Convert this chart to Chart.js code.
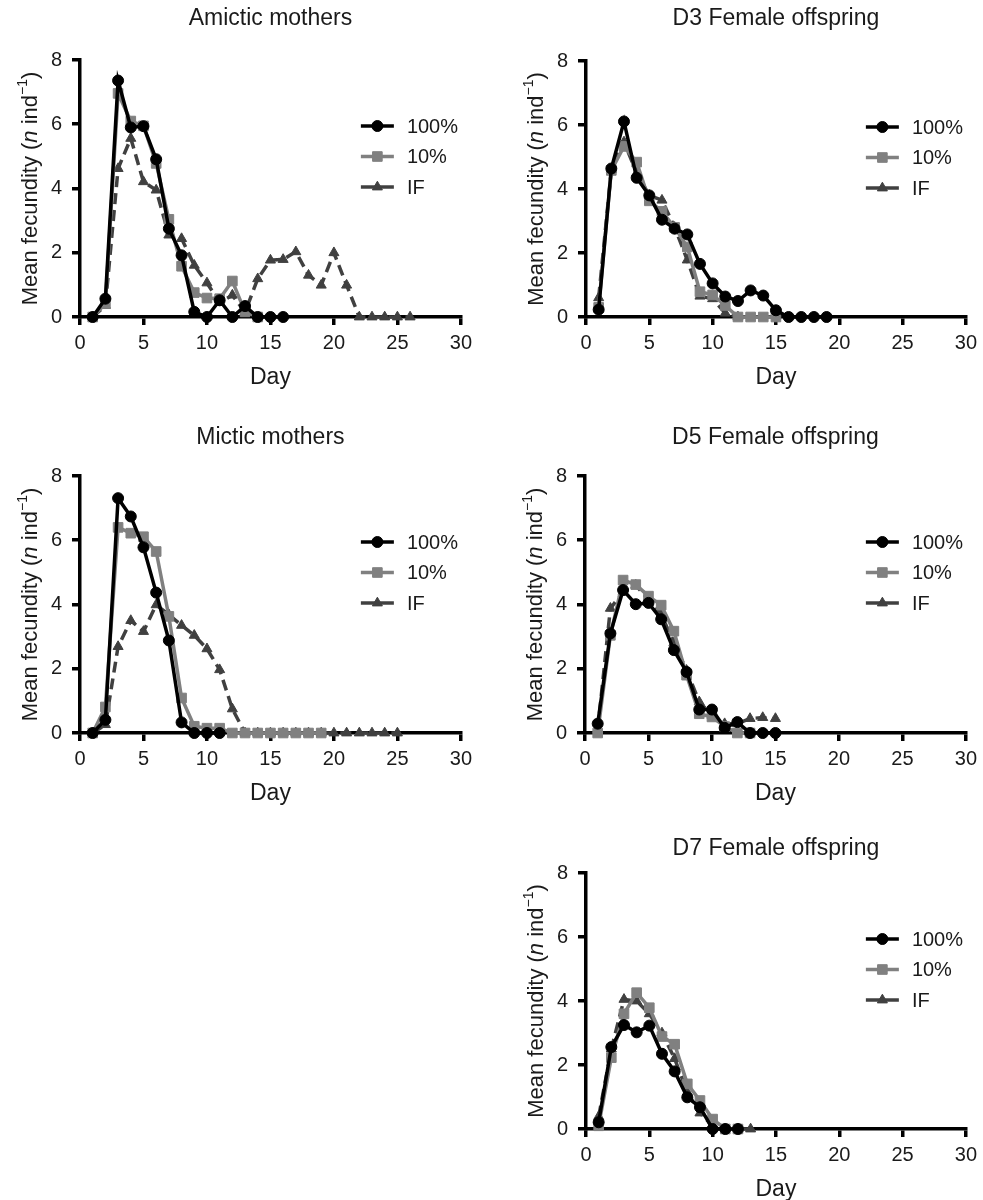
<!DOCTYPE html>
<html>
<head>
<meta charset="utf-8">
<title>Mean fecundity</title>
<script src="https://cdn.jsdelivr.net/npm/chart.js@4.4.1/dist/chart.umd.min.js"></script>
<style>
  html, body { margin: 0; padding: 0; background: #fff; overflow: hidden; }
  #wrap { position: relative; width: 983px; height: 1200px; }
  .panel { position: absolute; }
</style>
</head>
<body>
<div id="wrap"></div>
<script>
// --- data (day 1..n) ---
const days = [1, 2, 3, 4, 5, 6, 7, 8, 9, 10, 11, 12, 13, 14, 15, 16, 17, 18, 19, 20, 21, 22, 23, 24, 25, 26];
const xTicks = [0, 5, 10, 15, 20, 25, 30];
const yTicks = [0, 2, 4, 6, 8];
const seriesLabels = ['100%', '10%', 'IF'];

// Amictic mothers
const amictic100 = [0, 0.57, 7.36, 5.9, 5.94, 4.91, 2.75, 1.92, 0.16, 0, 0.52, 0, 0.34, 0, 0, 0];
const amictic10 = [0, 0.42, 6.96, 6.1, 5.95, 4.78, 3.04, 1.58, 0.76, 0.59, 0.57, 1.12, 0.16, 0];
const amicticIF = [0, 0.36, 4.62, 5.56, 4.21, 3.95, 2.55, 2.44, 1.61, 1.06, 0.45, 0.68, 0.15, 1.19, 1.77, 1.79, 2.03, 1.3, 0.99, 2.0, 0.99, 0, 0, 0, 0, 0];

// D3 female offspring
const d3Fem100 = [0.23, 4.64, 6.11, 4.35, 3.8, 3.04, 2.76, 2.58, 1.66, 1.05, 0.64, 0.5, 0.83, 0.67, 0.21, 0, 0, 0, 0];
const d3Fem10 = [0.3, 4.58, 5.33, 4.84, 3.63, 3.3, 2.8, 2.19, 0.79, 0.69, 0.36, 0, 0, 0, 0];
const d3FemIF = [0.6, 4.6, 5.47, 4.5, 3.8, 3.65, 2.8, 1.78, 0.65, 0.57, 0.12, 0];

// Mictic mothers
const mictic100 = [0, 0.41, 7.31, 6.74, 5.78, 4.37, 2.88, 0.33, 0, 0, 0];
const mictic10 = [0, 0.81, 6.4, 6.22, 6.11, 5.65, 3.63, 1.09, 0.21, 0.15, 0.15, 0, 0, 0, 0, 0, 0, 0, 0];
const micticIF = [0, 0.26, 2.69, 3.5, 3.16, 3.99, 3.68, 3.35, 3.04, 2.62, 1.97, 0.75, 0, 0, 0, 0, 0, 0, 0, 0, 0, 0, 0, 0, 0];

// D5 female offspring
const d5Fem100 = [0.29, 3.1, 4.45, 4.01, 4.05, 3.54, 2.58, 1.9, 0.73, 0.73, 0.16, 0.34, 0, 0, 0];
const d5Fem10 = [0, 3.04, 4.76, 4.62, 4.26, 3.98, 3.17, 1.8, 0.6, 0.5, 0.2, 0, 0];
const d5FemIF = [0.1, 3.88, 4.39, 4.6, 4.15, 3.7, 2.8, 1.95, 0.97, 0.55, 0.29, 0.29, 0.45, 0.48, 0.45];

// D7 female offspring
const d7Fem100 = [0.21, 2.56, 3.25, 3.02, 3.23, 2.35, 1.8, 0.99, 0.68, 0, 0, 0];
const d7Fem10 = [0.1, 2.23, 3.6, 4.26, 3.79, 2.89, 2.65, 1.41, 0.89, 0.31, 0, 0];
const d7FemIF = [0.39, 2.5, 4.05, 4.0, 3.6, 3.0, 2.2, 1.15, 0.5, 0.1, 0, 0, 0];

// --- look ---
const fontFamily = "'Liberation Sans', Arial, Helvetica, sans-serif";
const ink = '#1a1a1a';
const seriesStyle = [
    { color: '#000000', point: 'circle', radius: 5.5, dash: [] },
    { color: '#808080', point: 'rect', radius: 6.8, dash: [] },
    { color: '#404040', point: 'triangle', radius: 5.8, dash: [11, 6] }
];

// panel frames: plot area edges (L,R,T,B) and title centre line
const panels = [
    { title: 'Amictic mothers', series: [amictic100, amictic10, amicticIF], L: 80, R: 465, T: 60, B: 317, titleY: 19 },
    { title: 'D3 Female offspring', series: [d3Fem100, d3Fem10, d3FemIF], L: 586, R: 970, T: 61, B: 317, titleY: 19 },
    { title: 'Mictic mothers', series: [mictic100, mictic10, micticIF], L: 80, R: 465, T: 476, B: 733, titleY: 438 },
    { title: 'D5 Female offspring', series: [d5Fem100, d5Fem10, d5FemIF], L: 585, R: 970, T: 476, B: 733, titleY: 438 },
    { title: 'D7 Female offspring', series: [d7Fem100, d7Fem10, d7FemIF], L: 586, R: 970, T: 873, B: 1129, titleY: 849 }
];

const AXIS_W = 80, PAD_R = 13, TOP_H = 60, AXIS_H = 83;

function drawMarker(ctx, style, x, y, r) {
    ctx.beginPath();
    if (style === 'circle') {
        ctx.arc(x, y, r, 0, Math.PI * 2);
    } else if (style === 'rect') {
        const s = r * Math.SQRT1_2;
        ctx.rect(x - s, y - s, 2 * s, 2 * s);
    } else {
        for (let k = 0; k < 3; k++) {
            const a = k * 2 * Math.PI / 3;
            const px = x + r * Math.sin(a), py = y - r * Math.cos(a);
            if (k === 0) ctx.moveTo(px, py); else ctx.lineTo(px, py);
        }
    }
    ctx.closePath();
    ctx.fill();
    ctx.stroke();
}

// legend sitting inside the plot, upper right
const insetLegend = {
    id: 'insetLegend',
    afterDatasetsDraw(chart) {
        const { ctx, chartArea } = chart;
        const x0 = chartArea.right - 100, x1 = x0 + 33;
        chart.data.datasets.forEach((ds, i) => {
            const st = seriesStyle[i];
            const y = chartArea.top + 66 + i * 30.5;
            ctx.save();
            ctx.strokeStyle = st.color;
            ctx.fillStyle = st.color;
            ctx.lineWidth = 3.5;
            ctx.beginPath();
            ctx.moveTo(x0, y);
            ctx.lineTo(x1, y);
            ctx.stroke();
            ctx.lineWidth = 1;
            drawMarker(ctx, st.point, (x0 + x1) / 2, y, st.radius);
            ctx.fillStyle = ink;
            ctx.font = '20px ' + fontFamily;
            ctx.textBaseline = 'middle';
            ctx.textAlign = 'left';
            ctx.fillText(ds.label, x1 + 13, y + 1);
            ctx.restore();
        });
    }
};

// y title with italic n and superscript -1
const yTitle = {
    id: 'yTitle',
    afterDraw(chart) {
        const { ctx, chartArea } = chart;
        const parts = [
            { t: 'Mean fecundity (', f: '22px ', dy: 0 },
            { t: 'n', f: 'italic 22px ', dy: 0 },
            { t: ' ind', f: '22px ', dy: 0 },
            { t: '\u22121', f: '14px ', dy: -8 },
            { t: ')', f: '22px ', dy: 0 }
        ];
        ctx.save();
        let total = 0;
        parts.forEach(p => { ctx.font = p.f + fontFamily; p.w = ctx.measureText(p.t).width; total += p.w; });
        ctx.translate(chartArea.left - 50, (chartArea.top + chartArea.bottom) / 2);
        ctx.rotate(-Math.PI / 2);
        ctx.fillStyle = ink;
        ctx.textBaseline = 'middle';
        ctx.textAlign = 'left';
        let x = -total / 2;
        parts.forEach(p => {
            ctx.font = p.f + fontFamily;
            ctx.fillText(p.t, x, p.dy + 1);
            x += p.w;
        });
        ctx.restore();
    }
};

function makePanel(p) {
    const box = document.createElement('div');
    box.className = 'panel';
    const left = p.L - AXIS_W, top = p.T - TOP_H;
    const w = p.R - p.L + AXIS_W + PAD_R, h = p.B - p.T + TOP_H + AXIS_H;
    box.style.left = left + 'px';
    box.style.top = top + 'px';
    box.style.width = w + 'px';
    box.style.height = h + 'px';
    const canvas = document.createElement('canvas');
    box.appendChild(canvas);
    document.getElementById('wrap').appendChild(box);

    const padTop = p.titleY - top - 13.8;

    new Chart(canvas, {
        type: 'line',
        data: {
            labels: days,
            datasets: p.series.map((vals, i) => ({
                label: seriesLabels[i],
                data: vals,
                borderColor: seriesStyle[i].color,
                backgroundColor: seriesStyle[i].color,
                pointBackgroundColor: seriesStyle[i].color,
                pointBorderColor: seriesStyle[i].color,
                pointStyle: seriesStyle[i].point,
                pointRadius: seriesStyle[i].radius,
                pointBorderWidth: 1,
                borderWidth: 3.5,
                borderDash: seriesStyle[i].dash,
                tension: 0,
                fill: false,
                clip: false
            }))
        },
        options: {
            responsive: true,
            maintainAspectRatio: false,
            animation: false,
            layout: { padding: { left: 0, right: PAD_R, top: 0, bottom: 0 } },
            plugins: {
                legend: { display: false },
                tooltip: { enabled: false },
                title: {
                    display: true,
                    text: p.title,
                    fullSize: false,
                    color: ink,
                    font: { family: fontFamily, size: 23, weight: 'normal', lineHeight: 1.2 },
                    padding: { top: padTop, bottom: TOP_H - padTop - 27.6 }
                }
            },
            scales: {
                x: {
                    type: 'linear',
                    min: 0,
                    max: 30,
                    afterBuildTicks: s => { s.ticks = xTicks.map(v => ({ value: v })); },
                    afterFit: s => { s.height = AXIS_H; },
                    border: { display: true, color: '#000', width: 3.5 },
                    grid: { display: true, drawOnChartArea: false, drawTicks: true, tickLength: 8, lineWidth: 3.5, color: '#000' },
                    ticks: { color: ink, padding: 6, maxRotation: 0, autoSkip: false, font: { family: fontFamily, size: 20 } },
                    title: { display: true, text: 'Day', color: ink, font: { family: fontFamily, size: 23 }, padding: { top: 4, bottom: 9 } }
                },
                y: {
                    min: 0,
                    max: 8,
                    afterBuildTicks: s => { s.ticks = yTicks.map(v => ({ value: v })); },
                    afterFit: s => { s.width = AXIS_W; },
                    border: { display: true, color: '#000', width: 3.5 },
                    grid: { display: true, drawOnChartArea: false, drawTicks: true, tickLength: 8, lineWidth: 3.5, color: '#000' },
                    ticks: { color: ink, padding: 10, font: { family: fontFamily, size: 20 } }
                }
            }
        },
        plugins: [insetLegend, yTitle]
    });
}

panels.forEach(makePanel);
</script>
</body>
</html>
